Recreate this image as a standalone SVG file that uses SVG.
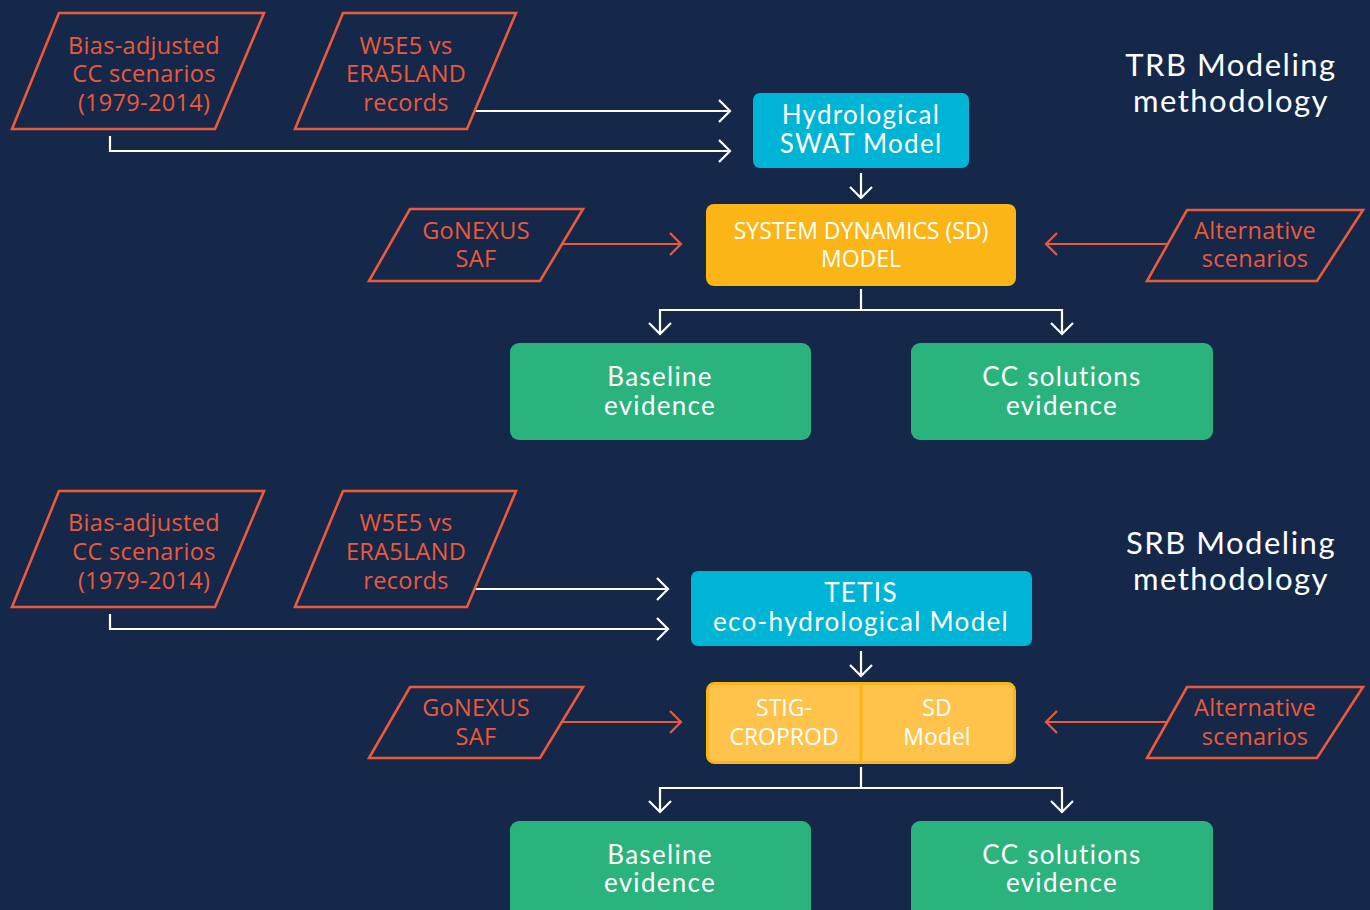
<svg xmlns="http://www.w3.org/2000/svg" width="1370" height="910" viewBox="0 0 1370 910">
<defs>
<marker id="aw" markerUnits="userSpaceOnUse" markerWidth="16" markerHeight="24" refX="12" refY="12" orient="auto" viewBox="0 0 16 24">
<path d="M1,1 L12,12 L1,23" fill="none" stroke="#ffffff" stroke-width="2.2"/>
</marker>
<marker id="ao" markerUnits="userSpaceOnUse" markerWidth="16" markerHeight="24" refX="12" refY="12" orient="auto" viewBox="0 0 16 24">
<path d="M1,1 L12,12 L1,23" fill="none" stroke="#EC5A3A" stroke-width="2.2"/>
</marker>
</defs>
<style>
.para{fill:none;stroke:#EC5A3A;stroke-width:2.6}
.ptxt{font-family:"Open Sans","Liberation Sans",sans-serif;font-size:23.5px;fill:#EC5A3A;text-anchor:middle;dominant-baseline:central;letter-spacing:0.3px}
.wl{fill:none;stroke:#ffffff;stroke-width:2.2}
.ol{fill:none;stroke:#EC5A3A;stroke-width:2.2}
.hyd{fill:#00B4D6}
.sd{fill:#FBB516}
.stig{fill:#FFC34B;stroke:#F9B51A;stroke-width:3}
.grn{fill:#2BB37D}
.rtxt{font-family:"Lato","Inter",sans-serif;font-size:26px;fill:#ffffff;text-anchor:middle;dominant-baseline:central;letter-spacing:1.3px}
.stxt{font-family:"Open Sans","Liberation Sans",sans-serif;font-size:23px;fill:#ffffff;text-anchor:middle;dominant-baseline:central}
.ttl{font-family:"Lato","Inter",sans-serif;font-size:31px;fill:#ffffff;text-anchor:middle;dominant-baseline:central;letter-spacing:1.5px}
</style>
<rect width="1370" height="910" fill="#15284A"/>

<g id="connectors">
<path class="wl" d="M475,111 H730" marker-end="url(#aw)"/>
<path class="wl" d="M110,136 V151 H730" marker-end="url(#aw)"/>
<path class="wl" d="M861,173 V198" marker-end="url(#aw)"/>
<path class="ol" d="M561,244 H681" marker-end="url(#ao)"/>
<path class="ol" d="M1167,244 H1046" marker-end="url(#ao)"/>
<path class="wl" d="M861,289 V310"/>
<path class="wl" d="M660,310 H1062"/>
<path class="wl" d="M660,309 V334" marker-end="url(#aw)"/>
<path class="wl" d="M1062,309 V334" marker-end="url(#aw)"/>
<path class="wl" d="M475,589 H668" marker-end="url(#aw)"/>
<path class="wl" d="M110,614 V629 H668" marker-end="url(#aw)"/>
<path class="wl" d="M861,651 V676" marker-end="url(#aw)"/>
<path class="ol" d="M561,722 H681" marker-end="url(#ao)"/>
<path class="ol" d="M1167,722 H1046" marker-end="url(#ao)"/>
<path class="wl" d="M861,767 V788"/>
<path class="wl" d="M660,788 H1062"/>
<path class="wl" d="M660,787 V812" marker-end="url(#aw)"/>
<path class="wl" d="M1062,787 V812" marker-end="url(#aw)"/>
</g>

<g id="bias1">
<polygon class="para" points="59,13 264,13 215,129 12,129"/>
<text class="ptxt" x="144" y="45">Bias-adjusted</text>
<text class="ptxt" x="144" y="73">CC scenarios</text>
<text class="ptxt" x="144" y="102">(1979-2014)</text>
</g>
<g id="w5e51">
<polygon class="para" points="343,13 516,13 467,129 295,129"/>
<text class="ptxt" x="406" y="45">W5E5 vs</text>
<text class="ptxt" x="406" y="73">ERA5LAND</text>
<text class="ptxt" x="406" y="102">records</text>
</g>
<g id="hydro">
<rect class="hyd" x="753" y="93" width="216" height="75" rx="7"/>
<text class="rtxt" x="861" y="114">Hydrological</text>
<text class="rtxt" x="861" y="143">SWAT Model</text>
</g>
<g id="trbtitle">
<text class="ttl" x="1231" y="64">TRB Modeling</text>
<text class="ttl" x="1231" y="100">methodology</text>
</g>
<g id="gonexus1">
<polygon class="para" points="410,209 583,209 540,281 369,281"/>
<text class="ptxt" x="476" y="230">GoNEXUS</text>
<text class="ptxt" x="476" y="258">SAF</text>
</g>
<g id="sdmodel">
<rect class="sd" x="706" y="204" width="310" height="82" rx="8"/>
<text class="stxt" x="861" y="230">SYSTEM DYNAMICS (SD)</text>
<text class="stxt" x="861" y="258">MODEL</text>
</g>
<g id="alt1">
<polygon class="para" points="1187,210 1363,210 1317,281 1147,281"/>
<text class="ptxt" x="1255" y="230">Alternative</text>
<text class="ptxt" x="1255" y="258">scenarios</text>
</g>
<g id="baseline1">
<rect class="grn" x="510" y="343" width="301" height="97" rx="9"/>
<text class="rtxt" x="660" y="376">Baseline</text>
<text class="rtxt" x="660" y="405">evidence</text>
</g>
<g id="ccsol1">
<rect class="grn" x="911" y="343" width="302" height="97" rx="9"/>
<text class="rtxt" x="1062" y="376">CC solutions</text>
<text class="rtxt" x="1062" y="405">evidence</text>
</g>

<g id="bias2">
<polygon class="para" points="59,491 264,491 215,607 12,607"/>
<text class="ptxt" x="144" y="522">Bias-adjusted</text>
<text class="ptxt" x="144" y="551">CC scenarios</text>
<text class="ptxt" x="144" y="580">(1979-2014)</text>
</g>
<g id="w5e52">
<polygon class="para" points="343,491 516,491 467,607 295,607"/>
<text class="ptxt" x="406" y="522">W5E5 vs</text>
<text class="ptxt" x="406" y="551">ERA5LAND</text>
<text class="ptxt" x="406" y="580">records</text>
</g>
<g id="tetis">
<rect class="hyd" x="691" y="571" width="341" height="75" rx="7"/>
<text class="rtxt" x="861" y="592">TETIS</text>
<text class="rtxt" x="861" y="621">eco-hydrological Model</text>
</g>
<g id="srbtitle">
<text class="ttl" x="1231" y="542">SRB Modeling</text>
<text class="ttl" x="1231" y="578">methodology</text>
</g>
<g id="gonexus2">
<polygon class="para" points="410,687 583,687 540,758 369,758"/>
<text class="ptxt" x="476" y="707">GoNEXUS</text>
<text class="ptxt" x="476" y="736">SAF</text>
</g>
<g id="stigsd">
<rect class="stig" x="707.5" y="683.5" width="307" height="79" rx="7"/>
<line x1="861" y1="684" x2="861" y2="762" stroke="#F9B51A" stroke-width="3"/>
<text class="stxt" x="784" y="707">STIG-</text>
<text class="stxt" x="784" y="736">CROPROD</text>
<text class="stxt" x="937" y="707">SD</text>
<text class="stxt" x="937" y="736">Model</text>
</g>
<g id="alt2">
<polygon class="para" points="1187,687 1363,687 1317,758 1147,758"/>
<text class="ptxt" x="1255" y="707">Alternative</text>
<text class="ptxt" x="1255" y="736">scenarios</text>
</g>
<g id="baseline2">
<rect class="grn" x="510" y="821" width="301" height="110" rx="9"/>
<text class="rtxt" x="660" y="854">Baseline</text>
<text class="rtxt" x="660" y="882">evidence</text>
</g>
<g id="ccsol2">
<rect class="grn" x="911" y="821" width="302" height="110" rx="9"/>
<text class="rtxt" x="1062" y="854">CC solutions</text>
<text class="rtxt" x="1062" y="882">evidence</text>
</g>
</svg>
